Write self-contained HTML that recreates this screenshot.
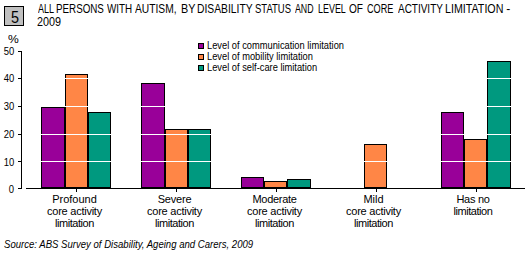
<!DOCTYPE html>
<html><head><meta charset="utf-8">
<style>
html,body{margin:0;padding:0;background:#fff;}
body{width:529px;height:253px;position:relative;overflow:hidden;font-family:"Liberation Sans",sans-serif;color:#000;}
.a{position:absolute;}
.t{position:absolute;white-space:nowrap;line-height:1;}
.box{left:4px;top:6px;width:18px;height:18px;border:1px solid #000;background:#c0c0c0;}
.bar{position:absolute;box-sizing:border-box;border:1px solid #000;}
.p{background:#990099;}
.o{background:#ff8646;}
.g{background:#00997f;}
.k{position:absolute;background:#000;}
.w{position:absolute;background:#fff;left:22px;width:503px;height:1px;}
.yl{position:absolute;right:514.6px;font-size:11px;line-height:11px;white-space:nowrap;transform:scaleX(0.86);transform-origin:100% 0;}
.tw{position:absolute;top:0;font-size:12px;line-height:12px;white-space:nowrap;transform-origin:0 0;}
.cl{position:absolute;font-size:11px;line-height:12px;text-align:center;width:100px;white-space:nowrap;}
.lg{position:absolute;font-size:10px;white-space:nowrap;line-height:10px;transform:scaleX(0.93);transform-origin:0 0;}
.sq{position:absolute;box-sizing:border-box;width:6px;height:6px;border:1px solid #000;}
</style></head><body>
<div class="a box"></div>
<div class="t" id="five" style="left:10.5px;top:10px;font-size:16px;transform:scaleX(0.9);transform-origin:0 0;">5</div>
<div id="title1" class="a" style="left:0;top:3px;width:529px;height:14px;">
<span class="tw" style="left:38.1px;transform:scaleX(0.752);">ALL</span>
<span class="tw" style="left:56.4px;transform:scaleX(0.816);">PERSONS</span>
<span class="tw" style="left:106.9px;transform:scaleX(0.820);">WITH</span>
<span class="tw" style="left:135.0px;transform:scaleX(0.854);">AUTISM,</span>
<span class="tw" style="left:181.1px;transform:scaleX(0.900);">BY</span>
<span class="tw" style="left:197.3px;transform:scaleX(0.859);">DISABILITY</span>
<span class="tw" style="left:254.7px;transform:scaleX(0.791);">STATUS</span>
<span class="tw" style="left:295.2px;transform:scaleX(0.732);">AND</span>
<span class="tw" style="left:318.3px;transform:scaleX(0.744);">LEVEL</span>
<span class="tw" style="left:349.4px;transform:scaleX(0.840);">OF</span>
<span class="tw" style="left:367.0px;transform:scaleX(0.761);">CORE</span>
<span class="tw" style="left:397.9px;transform:scaleX(0.831);">ACTIVITY</span>
<span class="tw" style="left:445.1px;transform:scaleX(0.891);">LIMITATION</span>
<span class="tw" style="left:506.3px;transform:scaleX(1.000);">-</span>
</div>
<div class="t" id="title2" style="left:37px;top:16px;font-size:12px;transform:scaleX(0.9);transform-origin:0 0;">2009</div>

<div class="t" id="pct" style="left:7.5px;top:34px;font-size:11px;line-height:11px;transform:scaleX(1.1);transform-origin:0 0;">%</div>
<div class="yl" id="y50" style="top:46px;">50</div>
<div class="yl" id="y40" style="top:73px;">40</div>
<div class="yl" id="y30" style="top:101px;">30</div>
<div class="yl" id="y20" style="top:129px;">20</div>
<div class="yl" id="y10" style="top:157px;">10</div>
<div class="yl" id="y0" style="top:184px;">0</div>

<!-- bars -->
<div class="bar p" style="left:41px;top:107px;width:24px;height:81px;"></div>
<div class="bar o" style="left:65px;top:74px;width:23px;height:114px;"></div>
<div class="bar g" style="left:88px;top:112px;width:23px;height:76px;"></div>

<div class="bar p" style="left:141px;top:83px;width:24px;height:105px;"></div>
<div class="bar o" style="left:165px;top:129px;width:23px;height:59px;"></div>
<div class="bar g" style="left:188px;top:129px;width:23px;height:59px;"></div>

<div class="bar p" style="left:241px;top:177px;width:23px;height:11px;"></div>
<div class="bar o" style="left:264px;top:181px;width:23px;height:7px;"></div>
<div class="bar g" style="left:287px;top:179px;width:24px;height:9px;"></div>

<div class="bar o" style="left:364px;top:144px;width:23px;height:44px;"></div>

<div class="bar p" style="left:441px;top:112px;width:23px;height:76px;"></div>
<div class="bar o" style="left:464px;top:139px;width:23px;height:49px;"></div>
<div class="bar g" style="left:487px;top:61px;width:24px;height:127px;"></div>

<!-- gridlines -->
<div class="w" style="top:51px"></div>
<div class="w" style="top:78px"></div>
<div class="w" style="top:106px"></div>
<div class="w" style="top:134px"></div>
<div class="w" style="top:161px"></div>

<!-- axes -->
<div class="k" style="left:21px;top:51px;width:1px;height:138px;"></div>
<div class="k" style="left:18px;top:51px;width:3px;height:1px;"></div>
<div class="k" style="left:18px;top:78px;width:3px;height:1px;"></div>
<div class="k" style="left:18px;top:106px;width:3px;height:1px;"></div>
<div class="k" style="left:18px;top:134px;width:3px;height:1px;"></div>
<div class="k" style="left:18px;top:161px;width:3px;height:1px;"></div>
<div class="k" style="left:18px;top:188px;width:3px;height:1px;"></div>
<div class="k" style="left:26px;top:188px;width:499px;height:1px;"></div>
<div class="k" style="left:76px;top:189px;width:1px;height:3px;"></div>
<div class="k" style="left:176px;top:189px;width:1px;height:3px;"></div>
<div class="k" style="left:276px;top:189px;width:1px;height:3px;"></div>
<div class="k" style="left:376px;top:189px;width:1px;height:3px;"></div>
<div class="k" style="left:476px;top:189px;width:1px;height:3px;"></div>

<!-- legend -->
<div class="sq p" style="left:198px;top:43px;"></div>
<div class="sq o" style="left:198px;top:54px;"></div>
<div class="sq g" style="left:198px;top:65px;"></div>
<div class="lg" id="lg1" style="left:207px;top:41px;">Level of communication limitation</div>
<div class="lg" id="lg2" style="left:207px;top:52px;">Level of mobility limitation</div>
<div class="lg" id="lg3" style="left:207px;top:63px;">Level of self-care limitation</div>

<!-- category labels -->
<div class="cl" style="left:24.5px;top:193px;letter-spacing:0px;">Profound</div>
<div class="cl" style="left:24.5px;top:205px;letter-spacing:-0.25px;">core activity</div>
<div class="cl" style="left:24.5px;top:217px;letter-spacing:-0.45px;">limitation</div>
<div class="cl" style="left:124.5px;top:193px;letter-spacing:-0.2px;">Severe</div>
<div class="cl" style="left:124.5px;top:205px;letter-spacing:-0.25px;">core activity</div>
<div class="cl" style="left:124.5px;top:217px;letter-spacing:-0.45px;">limitation</div>
<div class="cl" style="left:224.5px;top:193px;letter-spacing:-0.3px;">Moderate</div>
<div class="cl" style="left:224.5px;top:205px;letter-spacing:-0.25px;">core activity</div>
<div class="cl" style="left:224.5px;top:217px;letter-spacing:-0.45px;">limitation</div>
<div class="cl" style="left:323.5px;top:193px;letter-spacing:0px;">Mild</div>
<div class="cl" style="left:323.5px;top:205px;letter-spacing:-0.25px;">core activity</div>
<div class="cl" style="left:323.5px;top:217px;letter-spacing:-0.45px;">limitation</div>
<div class="cl" style="left:423px;top:193px;letter-spacing:-0.3px;">Has no</div>
<div class="cl" style="left:423px;top:205px;letter-spacing:-0.45px;">limitation</div>

<div class="t" id="src" style="left:4px;top:240px;font-size:10px;font-style:italic;transform:scaleX(0.957);transform-origin:0 0;">Source: ABS Survey of Disability, Ageing and Carers, 2009</div>
</body></html>
